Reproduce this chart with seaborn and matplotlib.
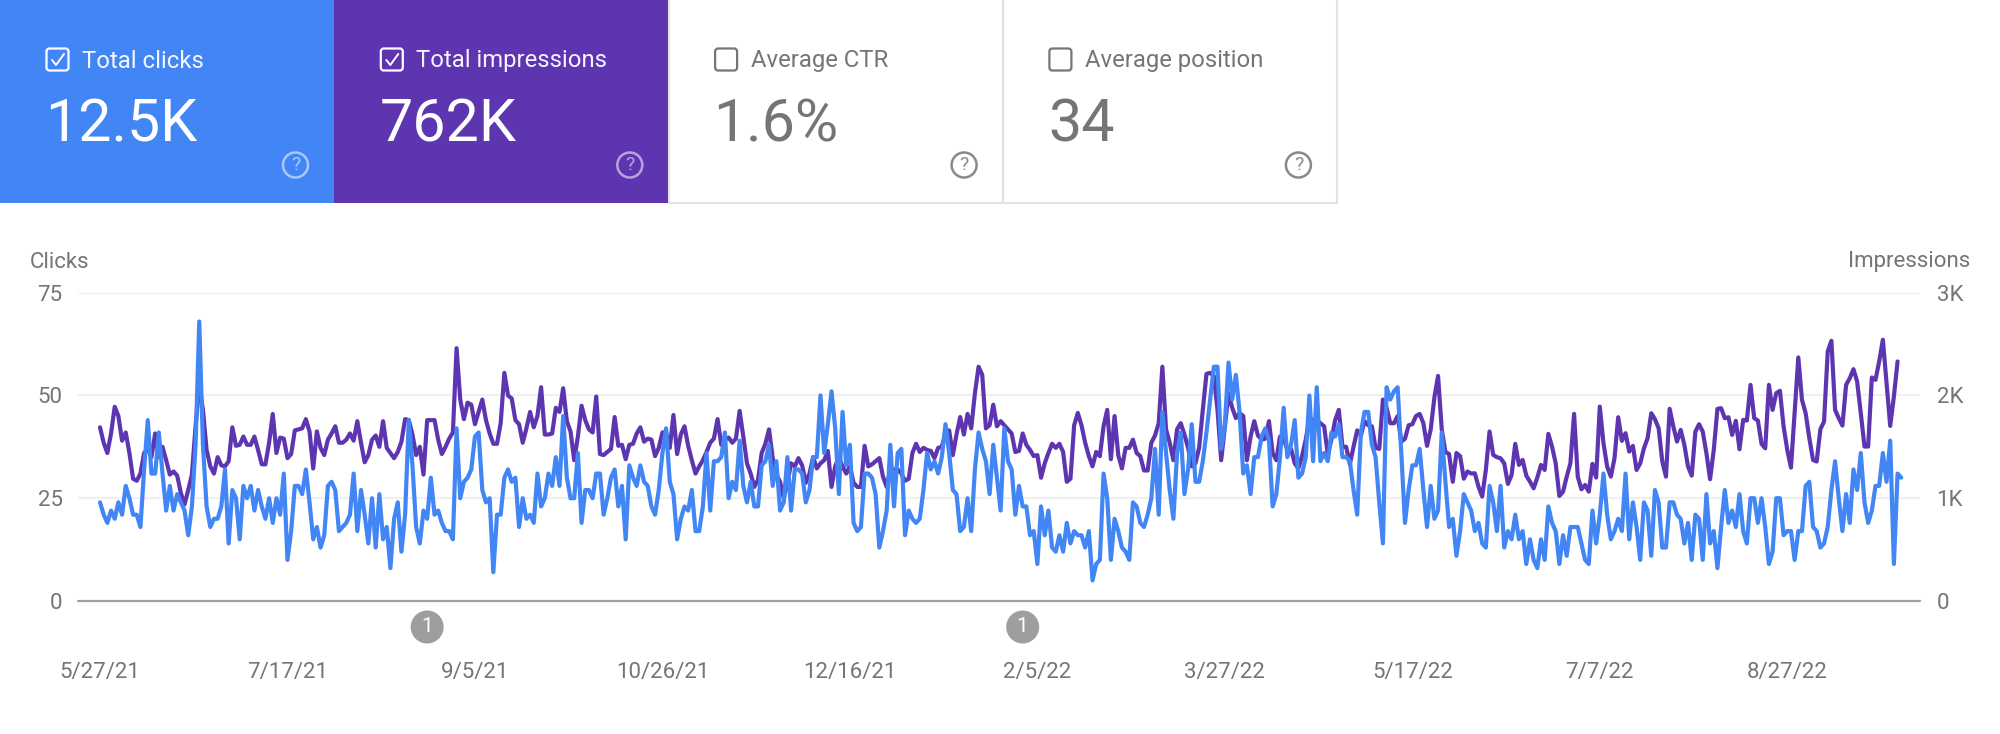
import numpy as np
import pandas as pd
import matplotlib
matplotlib.use("Agg")
import matplotlib.pyplot as plt
from matplotlib.patches import Rectangle, FancyBboxPatch, Circle
from matplotlib.lines import Line2D
import seaborn as sns

card_titles = ["Total clicks", "Total impressions", "Average CTR", "Average position"]
card_values = ["12.5K", "762K", "1.6%", "34"]
left_ticks = [0, 25, 50, 75]
right_ticks = [0, 1000, 2000, 3000]
right_tick_labels = ["0", "1K", "2K", "3K"]
date_ticks = ["5/27/21", "7/17/21", "9/5/21", "10/26/21", "12/16/21", "2/5/22", "3/27/22", "5/17/22", "7/7/22", "8/27/22"]
start_date = "2021-05-27"
annotation_dates = ["2021-08-24", "2022-02-02"]

clicks_a = [24,21,19,22,20,24,21,28,25,21,21,18,32,44,31,31,41,31,22,28,
            22,26,24,22,16,23,38,68,38,23,18,20,20,23,32,14,27,25,15,28,
            25,28,22,27,23,20,25,19,25,21,31,10,17,28,28,26,32,24,15,18]
clicks_b = [13,16,28,29,27,17,18,19,21,31,17,27,21,14,25,13,26,15,18,8,
            20,24,12,21,44,33,18,14,22,20,30,21,22,19,17,17,15,42,25,29,
            30,32,40,41,27,24,25,7,21,21,30,32,29,30,18,25,20,21,19,31,23,25,31]
clicks_c = [28,35,28,45,30,25,25,36,19,27,27,25,31,31,21,25,30,32,23,28,15,
            33,30,28,33,29,28,23,21,27,36,42,29,26,15,20,23,22,27,17,17,23,
            36,22,34,34,35,41,25,29,27,39,28,24,29,23,23,33,34,38,28,34,22]
clicks_d = [24,35,22,32,32,31,24,27,35,35,50,36,43,51,42,26,46,33,38,19,17,
            18,31,31,30,26,13,17,22,38,23,36,37,16,22,20,19,20,27,36,32,34,
            31,35,43,36,27,26,17,18,25,17,32,41,37,34,26,38,30,22,42,34]
clicks_e = [32,21,28,23,23,16,17,9,23,16,22,13,12,16,12,19,14,17,16,16,13,
            17,5,9,10,31,25,10,20,17,13,12,10,24,23,19,18,21,25,37,21,46,
            36,27,20,36,41,26,32,43,29,29,34,41,49,57,57,37,43,58,49,55,46,31]
clicks_f = [33,26,35,35,40,42,39,23,26,35,47,35,38,44,30,31,35,50,34,52,34,
            36,34,41,40,43,35,35,34,27,21,41,46,46,38,35,24,14,52,49,51,52,
            36,19,27,33,33,37,27,18,28,20,22,41,29,18,20,11,17,26,24,22,17]
clicks_g = [19,14,13,28,24,17,28,13,17,15,21,15,17,9,15,10,8,15,10,23,19,
            17,9,16,11,18,18,18,14,10,9,22,14,21,31,21,15,17,20,17,31,15,
            24,18,10,24,22,11,27,24,13,13,24,24,21,20,14,19,10,21,20,10]
clicks_h = [26,14,17,8,18,27,19,22,18,26,17,14,25,25,19,25,18,9,12,25,25,
            16,17,17,10,17,17,28,29,18,17,13,14,18,27,34,25,17,26,19,32,27,
            36,24,19,22,28,28,36,29,39,9,31,30]

impr_a = [1690,1540,1440,1630,1890,1800,1560,1640,1440,1190,1170,1240,1440,1480,1400,1630,1400,1500,1370,1230,
          1260,1220,1050,940,1080,1230,1700,2100,1860,1470,1310,1240,1400,1320,1310,1360,1690,1510,1520,1600,
          1520,1520,1600,1470,1330,1330,1540,1820,1440,1590,1580,1390,1430,1660,1670,1680,1770,1650,1290,1650]
impr_b = [1490,1420,1570,1630,1700,1540,1540,1570,1630,1560,1750,1540,1350,1420,1570,1610,1500,1750,1490,1440,
          1390,1450,1550,1770,1760,1620,1420,1500,1230,1760,1760,1760,1570,1430,1500,1580,1640,2460,1960,1770,
          1930,1910,1720,1840,1960,1760,1630,1530,1530,1730,2220,2000,1970,1760,1720,1540,1680,1840,1690,1800,2080,1620,1620]
impr_c = [1630,1880,1840,2070,1750,1650,1370,1600,1900,1760,1670,1640,1990,1430,1420,1450,1480,1790,1510,1520,
          1380,1520,1530,1630,1690,1550,1580,1570,1410,1490,1640,1640,1490,1810,1430,1620,1700,1510,1370,1240,
          1310,1370,1450,1540,1580,1770,1520,1570,1590,1540,1580,1850,1600,1340,1240,1110,1180,1440,1530,1670,1390,1230,1160]
impr_d = [1000,1150,1340,1310,1390,1320,1150,1240,1400,1290,1340,1370,1460,1110,1310,1400,1310,1240,1310,1150,
          1110,1110,1510,1310,1330,1360,1390,1210,1110,1280,1280,1280,1240,1170,1190,1440,1530,1450,1490,1470,
          1460,1390,1490,1500,1630,1660,1420,1620,1790,1620,1820,1680,2020,2280,2200,1680,1710,1910,1700,1750,1710,1670]
impr_e = [1630,1450,1460,1630,1520,1470,1410,1420,1200,1340,1440,1530,1490,1530,1450,1160,1190,1710,1830,1710,
          1540,1410,1310,1450,1410,1700,1860,1380,1800,1420,1290,1490,1490,1570,1440,1410,1270,1270,1540,1610,
          1730,2280,1670,1540,1370,1670,1730,1620,1490,1310,1340,1490,1860,2210,2220,2190,1860,1370,1700,2020,1880,1780,1830]
impr_f = [1800,1370,1600,1750,1610,1570,1580,1750,1440,1370,1600,1580,1470,1480,1340,1290,1410,1570,1780,1760,
          1760,1730,1700,1430,1570,1760,1860,1500,1500,1330,1500,1660,1610,1750,1710,1700,1490,1480,1960,1880,
          1730,1730,1800,1550,1580,1710,1720,1800,1820,1730,1510,1670,1980,2190,1670,1450,1430,1160,1440,1410,1190,1260,1240]
impr_g = [1243,1113,1016,1275,1649,1422,1399,1389,1340,1139,1227,1529,1324,1373,1220,1162,1097,1201,1324,1275,
          1626,1503,1340,1022,1064,1210,1340,1821,1210,1087,1129,1064,1334,1201,1892,1535,1308,1210,1389,1788,
          1558,1633,1454,1509,1275,1340,1486,1584,1827,1769,1681,1357,1210,1870,1698,1551,1665,1519,1308,1220,1649,1720,1649]
impr_h = [1438,1185,1470,1870,1876,1779,1788,1616,1753,1477,1762,1756,2103,1779,1756,1529,1486,2103,1860,2022,
          2045,1698,1470,1298,1827,2370,1957,1827,1584,1373,1357,1671,1746,2428,2532,1860,1779,1707,2103,2168,
          2256,2136,1827,1503,1503,2175,2152,2331,2542,2120,1704,1990,2331]

clicks = clicks_a + clicks_b + clicks_c + clicks_d + clicks_e + clicks_f + clicks_g + clicks_h
impressions = impr_a + impr_b + impr_c + impr_d + impr_e + impr_f + impr_g + impr_h

BLUE = "#4285F4"
PURPLE = "#5E35B1"
GREY = "#757575"
FONT = ["Roboto", "DejaVu Sans"]

sns.set_theme(style="white")
plt.rcParams["font.family"] = FONT

W, H = 2000, 734
fig = plt.figure(figsize=(W / 100, H / 100), dpi=100, facecolor="white")

# overlay in pixel coordinates for the summary cards
bg = fig.add_axes([0, 0, 1, 1])
bg.set_xlim(0, W)
bg.set_ylim(H, 0)
bg.axis("off")

card_w = 339.5
card_w = 339.5 if False else 339.5 - 5.2
card_h = 203
fills = [BLUE, PURPLE, "white", "white"]
for i, (title, val, fc) in enumerate(zip(card_titles, card_values, fills)):
    x0 = i * card_w
    on = fc != "white"
    col = "white" if on else GREY
    bg.add_patch(Rectangle((x0, -2), card_w, card_h + 2, fc=fc, ec="none", zorder=1))
    if not on:
        bg.add_patch(Rectangle((x0, -2), card_w, card_h + 2, fc="none", ec="#e2e2e2", lw=1.5, zorder=2))
    bg.add_patch(FancyBboxPatch((x0 + 46.5, 48.5), 22, 22, boxstyle="round,pad=0,rounding_size=3",
                                fc="none", ec=col, lw=1.6, zorder=3))
    if on:
        bg.add_line(Line2D([x0 + 52, x0 + 56, x0 + 64], [60, 65, 54], color=col, lw=1.4, zorder=3))
    bg.text(x0 + 82, 61, title, color=col, fontsize=17.2, va="center", ha="left", family=FONT, zorder=3,
            alpha=0.95 if on else 1)
    bg.text(x0 + 45, 125, val, color=col, fontsize=42.6, va="center", ha="left", family=FONT, zorder=3)
    qc = "#ffffff" if on else GREY
    qa = 0.55 if on else 0.85
    bg.add_patch(Circle((x0 + 295.5, 165), 12.5, fc="none", ec=qc, lw=1.8, alpha=qa, zorder=3))
    bg.text(x0 + 295.5, 165, "?", color=qc, alpha=qa, fontsize=14, va="center", ha="center",
            family=FONT, zorder=3)

# main chart
left, right, top, bottom = 78, 1920, 292.7, 601
ax = fig.add_axes([left / W, 1 - bottom / H, (right - left) / W, (bottom - top) / H])
ax2 = ax.twinx()

dates_c = pd.date_range(start_date, periods=len(clicks))
dates_i = pd.date_range(start_date, periods=len(impressions))
df_c = pd.DataFrame({"date": dates_c, "clicks": clicks})
df_i = pd.DataFrame({"date": dates_i, "impressions": impressions})

sns.lineplot(data=df_i, x="date", y="impressions", ax=ax2, color=PURPLE, linewidth=3.0, solid_joinstyle="round")
sns.lineplot(data=df_c, x="date", y="clicks", ax=ax, color=BLUE, linewidth=3.0, solid_joinstyle="round")

ax.set_zorder(3)
ax2.set_zorder(2)
ax.patch.set_visible(False)
ax2.patch.set_visible(False)

start = pd.Timestamp(start_date)
px_per_day = 3.676
ax.set_xlim(start - pd.Timedelta(days=(100 - left) / px_per_day),
            start + pd.Timedelta(days=(right - 100) / px_per_day))
ax.set_ylim(0, 75)
ax2.set_ylim(0, 3000)

tick_pos = [start + pd.Timedelta(days=51 * i) for i in range(len(date_ticks))]
ax.set_xticks(tick_pos)
ax.set_xticklabels(date_ticks)
ax.set_yticks(left_ticks)
ax2.set_yticks(right_ticks)
ax2.set_yticklabels(right_tick_labels)
ax.set_xlabel("")
ax.set_ylabel("")
ax2.set_ylabel("")

for a in (ax, ax2):
    for s in a.spines.values():
        s.set_visible(False)
ax2.grid(False)
ax.tick_params(axis="x", length=0, pad=44, labelsize=16, labelcolor=GREY)
ax.tick_params(axis="y", length=0, pad=11, labelsize=16, labelcolor=GREY)
ax2.tick_params(axis="y", length=0, pad=12, labelsize=16, labelcolor=GREY)

for v in left_ticks[1:]:
    ax2.axhline(v * 40, color="#f0f0f0", lw=1.6, zorder=0)
ax2.axhline(0, color="#9e9e9e", lw=1.6, zorder=1, clip_on=False)

# event markers below the axis, on the date scale
for d in annotation_dates:
    xp = ax.get_xlim()
    frac = (matplotlib.dates.date2num(pd.Timestamp(d)) - xp[0]) / (xp[1] - xp[0])
    xc = left + frac * (right - left)
    bg.add_patch(Circle((xc, 627), 16.5, fc="#9e9e9e", ec="none", zorder=3))
    bg.text(xc, 627, "1", color="white", fontsize=15, ha="center", va="center", family=FONT, zorder=4)

bg.text(30, 262, "Clicks", color=GREY, fontsize=16, ha="left", va="center", family=FONT)
bg.text(1970, 262, "Impressions", color=GREY, fontsize=16, ha="right", va="center", family=FONT)

fig.savefig("out.png", dpi=100, facecolor="white")
print(len(clicks), len(impressions))
